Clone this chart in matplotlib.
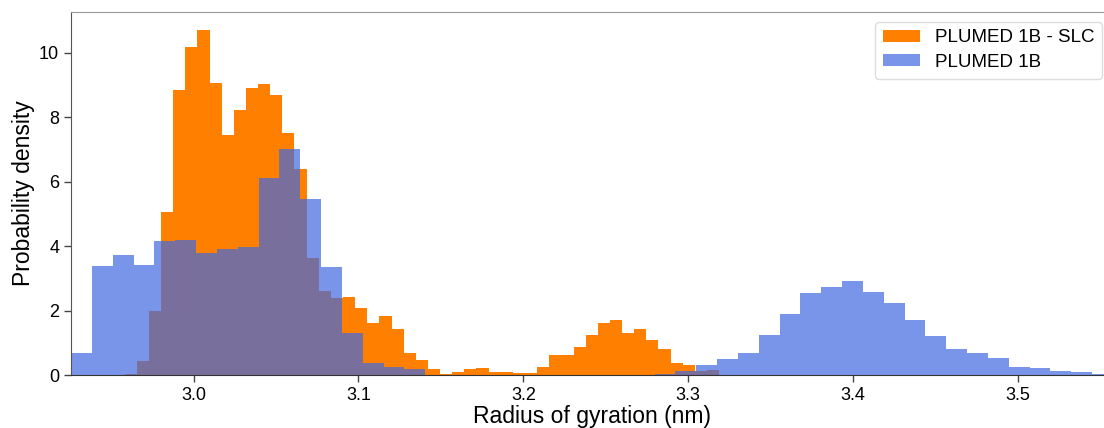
import matplotlib
matplotlib.use("Agg")
import matplotlib.pyplot as plt
import numpy as np

# histogram heights (probability density per bin)
slc_heights = [0.03, 0.44, 1.99, 5.06, 8.84, 10.17, 10.71, 9.06, 7.45, 8.23,
               8.90, 9.05, 8.70, 7.52, 6.41, 3.64, 2.61, 2.40, 2.43, 2.07,
               1.62, 1.82, 1.44, 0.67, 0.48, 0.20, 0.03, 0.09, 0.18, 0.22,
               0.09, 0.08, 0.05, 0.07, 0.25, 0.62, 0.62, 0.86, 1.24, 1.60,
               1.71, 1.31, 1.42, 1.09, 0.82, 0.36, 0.31, 0.13, 0.14, 0.0]
slc_range = (2.9582, 3.3261)

plain_heights = [0.67, 3.39, 3.74, 3.42, 4.17, 4.20, 3.78, 3.90, 3.98, 6.12,
                 7.01, 5.46, 3.36, 1.31, 0.36, 0.26, 0.20, 0.0, 0.0, 0.0,
                 0.0, 0.0, 0.0, 0.0, 0.0, 0.0, 0.0, 0.0, 0.03, 0.13,
                 0.31, 0.51, 0.67, 1.23, 1.90, 2.54, 2.73, 2.92, 2.59, 2.23,
                 1.71, 1.20, 0.81, 0.68, 0.53, 0.25, 0.21, 0.12, 0.10, 0.03]
plain_range = (2.9257, 3.5576)

labels = ["PLUMED 1B - SLC", "PLUMED 1B"]
x_ticks = [3.0, 3.1, 3.2, 3.3, 3.4, 3.5]
y_ticks = [0, 2, 4, 6, 8, 10]

plt.rcParams["font.family"] = ["Liberation Sans", "DejaVu Sans"]

fig = plt.figure(figsize=(11.04, 4.28), dpi=100)
ax = fig.add_axes([71 / 1104, 53 / 428, 1042 / 1104, 363 / 428])


def draw_hist(heights, rng, **kw):
    edges = np.linspace(rng[0], rng[1], len(heights) + 1)
    centers = 0.5 * (edges[:-1] + edges[1:])
    ax.hist(centers, bins=edges, weights=heights, histtype="stepfilled", **kw)


draw_hist(slc_heights, slc_range, color="#ff7f00", label=labels[0])
draw_hist(plain_heights, plain_range, color="royalblue", alpha=0.7,
          label=labels[1])

ax.set_xlim(plain_range)
ax.set_ylim(0, 11.27)
ax.set_xticks(x_ticks)
ax.set_yticks(y_ticks)
ax.tick_params(labelsize=13, length=5, width=1, color="#444444")

ax.spines["right"].set_visible(False)
ax.spines["top"].set_color("#999999")
ax.spines["left"].set_color("#555555")
ax.spines["bottom"].set_color("#333333")

ax.set_xlabel("Radius of gyration (nm)", fontsize=16.5, labelpad=1)
ax.set_ylabel("Probability density", fontsize=16.5, labelpad=3)

leg = ax.legend(loc="upper right", bbox_to_anchor=(1102 / 1104, 1 - 22 / 428),
                bbox_transform=fig.transFigure, borderaxespad=0,
                fontsize=13.5, handlelength=2.0, handleheight=0.6,
                handletextpad=0.8, borderpad=0.4, labelspacing=0.4,
                framealpha=1, edgecolor="#dddddd")

fig.savefig("out.png", dpi=100)
